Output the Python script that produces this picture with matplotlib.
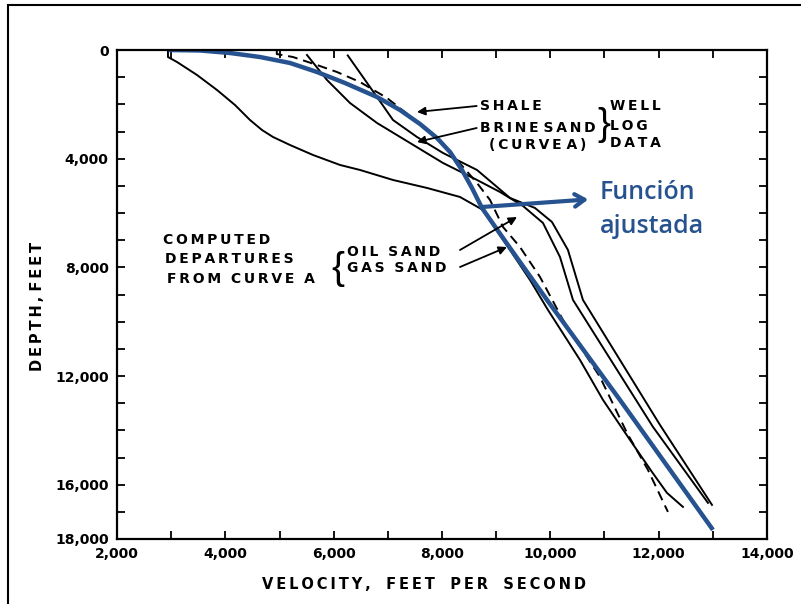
import matplotlib.pyplot as plt
import matplotlib.patches as mpatches
import numpy as np

# velocity (ft/s) vs depth (ft)
shale_v = [6260, 6800, 7095, 7538, 8018, 8646, 9255, 9716, 10030, 10325, 10602, 12024, 12984]
shale_d = [200, 1730, 2576, 3202, 3790, 4416, 5446, 5814, 6330, 7360, 9200, 13800, 16744]

brine_v = [5507, 5877, 6301, 6800, 7409, 8018, 8646, 9070, 9495, 9864, 10178, 10418, 11895, 12910]
brine_d = [184, 1104, 1950, 2686, 3422, 4158, 4784, 5226, 5741, 6366, 7618, 9200, 13874, 16670]

oil_v = [4950, 4950, 5249, 5692, 6061, 6486, 6984, 7501, 7963, 8276, 8646, 8886, 9126, 9439,
         9809, 10233, 10916, 11415, 11802, 12171]
oil_d = [0, 150, 258, 552, 810, 1178, 1766, 2576, 3312, 4048, 4894, 5520, 6514, 7250,
         8354, 9936, 12034, 14094, 15456, 17002]

gas_v = [2941, 2941, 3108, 3477, 3846, 4178, 4455, 4677, 4880, 5194, 5618, 6117, 6486, 7095,
         7723, 8332, 8756, 8978, 9255, 9624, 9956, 10547, 10972, 11470, 11876, 12153, 12448]
gas_d = [0, 258, 442, 920, 1472, 2024, 2576, 2945, 3202, 3497, 3864, 4232, 4416, 4784,
         5078, 5410, 5888, 6550, 7360, 8464, 9568, 11408, 12880, 14352, 15530, 16302, 16818]

fit_v = [2950, 3532, 4086, 4640, 5194, 5692, 6209, 6800, 7224, 7594, 7907, 8148, 8369, 8554,
         8738, 9255, 9938, 11285, 13002]
fit_d = [0, 18, 110, 258, 478, 810, 1215, 1730, 2208, 2724, 3239, 3754, 4417, 5080,
         5814, 7286, 9200, 12880, 17664]

x_labels = {2000: "2,000", 4000: "4,000", 6000: "6,000", 8000: "8,000",
            10000: "10,000", 12000: "12,000", 14000: "14,000"}
y_labels = {0: "0", 4000: "4,000", 8000: "8,000", 12000: "12,000",
            16000: "16,000", 18000: "18,000"}

BLUE = "#26528f"
TS = "\u2009"


def spaced(s):
    return TS.join(s)


fig = plt.figure(figsize=(8.01, 6.04), dpi=100)
ax = fig.add_axes([117 / 801, 1 - 539 / 604, 650 / 801, 489 / 604])

ax.plot(shale_v, shale_d, color="black", lw=1.4)
ax.plot(brine_v, brine_d, color="black", lw=1.4)
ax.plot(gas_v, gas_d, color="black", lw=1.4)
ax.plot(oil_v, oil_d, color="black", lw=1.4, ls=(0, (5, 3)))
ax.plot(fit_v, fit_d, color=BLUE, lw=3.2, solid_capstyle="butt", solid_joinstyle="round")

ax.set_xlim(2000, 14000)
ax.set_ylim(18000, 0)

xt = np.arange(2000, 14001, 1000)
yt = np.arange(0, 18001, 1000)
ax.set_xticks(xt)
ax.set_yticks(yt)
ax.set_xticklabels([x_labels.get(int(t), "") for t in xt])
ax.set_yticklabels([y_labels.get(int(t), "") for t in yt])
ax.tick_params(direction="in", length=6, width=1.3, top=True, right=True,
               labelsize=10, pad=6)
for lab in ax.get_xticklabels() + ax.get_yticklabels():
    lab.set_fontweight("bold")
for s in ax.spines.values():
    s.set_linewidth(1.6)

ax.set_xlabel(spaced("VELOCITY,") + "   " + spaced("FEET") + "   " + spaced("PER") + "   "
              + spaced("SECOND"), fontsize=10.5, fontweight="bold")
ax.xaxis.set_label_coords(0.472, -0.078)
ax.set_ylabel(spaced("DEPTH,") + " " + spaced("FEET"), fontsize=10.5, fontweight="bold")
ax.yaxis.set_label_coords(-0.111, 0.476)

txt = dict(fontsize=10, fontweight="bold", va="center", ha="left")
arw = dict(arrowstyle="-|>", color="black", lw=1.3, mutation_scale=12, shrinkA=0, shrinkB=0)

# well log labels
ax.text(8700, 2061, spaced("SHALE"), **txt)
ax.annotate("", xy=(7538, 2282), xytext=(8640, 2061), arrowprops=arw)
ax.text(8700, 2871, spaced("BRINE") + " " + spaced("SAND"), **txt)
ax.text(8860, 3497, spaced("(CURVE") + " " + spaced("A)"), **txt)
ax.annotate("", xy=(7538, 3387), xytext=(8640, 2871), arrowprops=arw)
ax.text(10990, 2750, "}", fontsize=28, family="Liberation Sans", va="center", ha="center")
ax.text(11100, 2061, spaced("WELL"), **txt)
ax.text(11100, 2780, spaced("LOG"), **txt)
ax.text(11100, 3423, spaced("DATA"), **txt)

# computed departures
ax.text(2850, 6994, spaced("COMPUTED"), **txt)
ax.text(2880, 7693, spaced("DEPARTURES"), **txt)
ax.text(2920, 8430, spaced("FROM") + "  " + spaced("CURVE") + "  " + spaced("A"), **txt)
ax.text(6080, 8050, "{", fontsize=28, family="Liberation Sans", va="center", ha="center")
ax.text(6250, 7436, spaced("OIL") + "  " + spaced("SAND"), **txt)
ax.text(6250, 8025, spaced("GAS") + "  " + spaced("SAND"), **txt)
ax.annotate("", xy=(9385, 6147), xytext=(8332, 7362), arrowprops=arw)
ax.annotate("", xy=(9200, 7252), xytext=(8332, 7988), arrowprops=arw)

# fitted function label
ax.annotate("", xy=(10700, 5500), xytext=(8738, 5779),
            arrowprops=dict(arrowstyle="->,head_length=0.7,head_width=0.45", color=BLUE,
                            lw=3, shrinkA=0, shrinkB=0))
ax.text(10917, 5227, "Función", fontsize=18, color=BLUE, family="Open Sans",
        fontweight="semibold", va="center", ha="left")
ax.text(10917, 6515, "ajustada", fontsize=18, color=BLUE, family="Open Sans",
        fontweight="semibold", va="center", ha="left")

# outer frame (open on the right and bottom)
fig.patches.append(mpatches.Rectangle((8 / 801, -0.05), 1.2, 1 - 5 / 604 + 0.05,
                                      transform=fig.transFigure, fill=False,
                                      edgecolor="black", lw=1.5))

fig.savefig("out.png", dpi=100)
